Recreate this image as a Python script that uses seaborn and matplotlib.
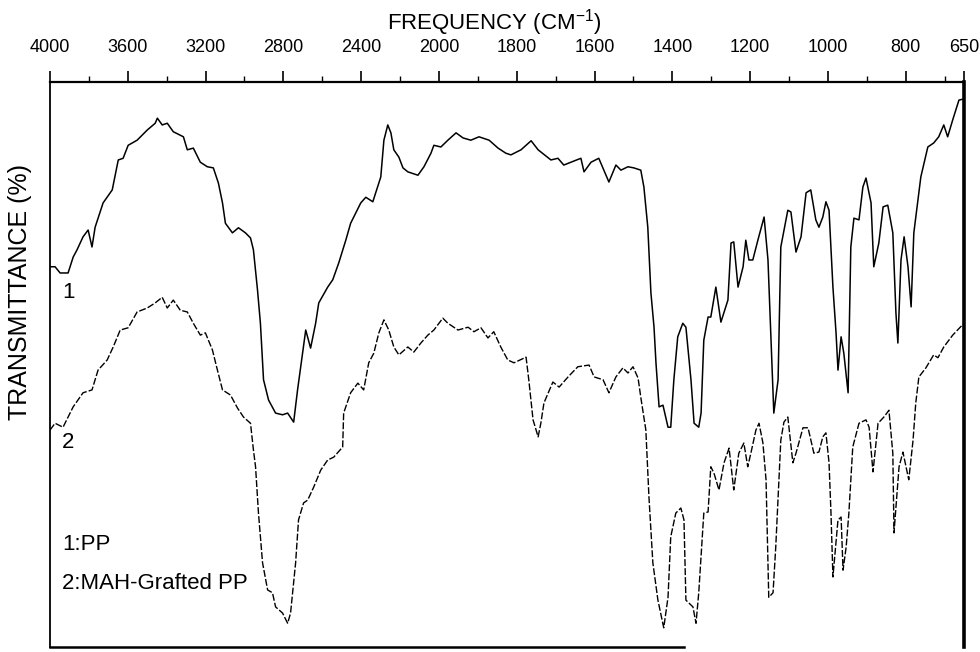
import numpy as np
import pandas as pd
import matplotlib
matplotlib.use("Agg")
import matplotlib.pyplot as plt
import seaborn as sns

# IR spectrum of polypropylene (curve 1)
pp_wn = [4000, 3974, 3948, 3907, 3881, 3861, 3830, 3804, 3784, 3768,
         3727, 3680, 3649, 3624, 3598, 3552, 3500, 3459, 3448, 3423,
         3397, 3366, 3314, 3294, 3263, 3227, 3191, 3160, 3134, 3113,
         3098, 3062, 3031, 2995, 2969, 2954, 2933, 2918, 2902, 2876,
         2840, 2804, 2778, 2747, 2727, 2701, 2685, 2660, 2634, 2618,
         2572, 2546, 2515, 2479, 2454, 2402, 2376, 2340, 2325, 2299,
         2283, 2263, 2247, 2232, 2206, 2185, 2160, 2108, 2077, 2041,
         2026, 1995, 1977, 1956, 1938, 1918, 1897, 1871, 1848, 1828,
         1815, 1789, 1763, 1745, 1712, 1694, 1679, 1635, 1627, 1609,
         1589, 1563, 1545, 1532, 1514, 1499, 1481, 1473, 1463, 1455,
         1447, 1442, 1434, 1424, 1411, 1404, 1396, 1386, 1373, 1365,
         1352, 1344, 1332, 1326, 1319, 1308, 1301, 1288, 1275, 1257,
         1249, 1242, 1231, 1218, 1211, 1203, 1193, 1180, 1164, 1154,
         1146, 1139, 1128, 1121, 1103, 1095, 1082, 1069, 1056, 1044,
         1031, 1023, 1013, 1005, 997, 987, 979, 974, 966, 959,
         948, 941, 933, 920, 910, 902, 889, 882, 869, 858,
         846, 833, 825, 820, 812, 804, 794, 786, 779, 761,
         743, 728, 715, 702, 692, 679, 663, 650]
pp_t = [67.3, 67.3, 66.2, 66.2, 69.0, 70.3, 72.6, 73.8, 70.8, 74.3,
        78.6, 80.9, 86.2, 86.5, 88.8, 89.7, 91.5, 92.7, 93.6, 92.4,
        92.7, 91.2, 90.3, 88.0, 88.3, 85.8, 85.0, 84.8, 82.1, 78.6,
        75.0, 73.3, 74.2, 73.3, 72.4, 70.3, 63.2, 57.3, 47.3, 43.7,
        41.4, 41.1, 41.4, 39.8, 45.5, 52.0, 56.1, 52.9, 57.3, 60.9,
        63.7, 65.0, 68.0, 72.0, 75.0, 78.6, 79.6, 78.8, 80.4, 83.2,
        89.7, 92.4, 91.0, 88.0, 86.7, 84.8, 84.1, 83.5, 85.0, 87.4,
        88.8, 88.5, 89.7, 91.0, 90.1, 89.7, 90.3, 89.7, 88.3, 87.4,
        87.1, 88.0, 89.6, 88.0, 86.2, 86.5, 85.3, 86.5, 84.1, 85.8,
        86.5, 82.3, 85.3, 84.4, 85.0, 84.8, 84.4, 81.4, 74.3, 62.7,
        56.6, 50.3, 42.5, 42.8, 38.9, 38.9, 47.3, 54.9, 57.3, 56.6,
        47.3, 39.6, 38.9, 41.4, 54.3, 58.4, 58.4, 63.7, 57.5, 61.4,
        71.5, 71.7, 63.7, 67.3, 72.0, 68.5, 68.5, 72.0, 76.1, 68.5,
        53.8, 41.4, 47.3, 70.8, 77.3, 77.0, 69.9, 72.6, 80.4, 80.9,
        75.6, 74.3, 76.1, 78.8, 77.3, 63.7, 55.6, 49.0, 54.9, 52.0,
        45.0, 70.8, 75.9, 75.6, 81.4, 83.0, 78.6, 67.3, 71.5, 77.9,
        78.2, 73.3, 59.1, 53.8, 68.5, 72.6, 67.3, 60.2, 73.3, 83.2,
        88.5, 89.2, 90.3, 92.4, 90.3, 93.3, 96.8, 97.0]

# IR spectrum of MAH-grafted polypropylene (curve 2)
mah_wn = [4000, 3974, 3933, 3881, 3830, 3784, 3753, 3706, 3675, 3639,
          3598, 3552, 3500, 3459, 3423, 3397, 3366, 3330, 3294, 3263,
          3227, 3201, 3165, 3139, 3113, 3072, 3036, 3005, 2969, 2954,
          2943, 2928, 2907, 2881, 2856, 2840, 2804, 2778, 2763, 2737,
          2722, 2696, 2675, 2644, 2608, 2572, 2541, 2495, 2490, 2454,
          2417, 2387, 2361, 2335, 2309, 2283, 2258, 2232, 2206, 2160,
          2129, 2093, 2057, 2026, 1990, 1977, 1951, 1925, 1910, 1892,
          1874, 1859, 1841, 1823, 1807, 1776, 1769, 1758, 1745, 1738,
          1730, 1707, 1691, 1668, 1643, 1614, 1601, 1578, 1563, 1545,
          1527, 1514, 1501, 1488, 1481, 1468, 1460, 1450, 1437, 1422,
          1411, 1404, 1391, 1378, 1370, 1365, 1347, 1339, 1332, 1319,
          1308, 1301, 1293, 1280, 1267, 1254, 1242, 1229, 1216, 1206,
          1198, 1185, 1177, 1167, 1159, 1152, 1141, 1134, 1121, 1113,
          1103, 1090, 1082, 1064, 1051, 1036, 1023, 1013, 1005, 997,
          992, 987, 974, 966, 961, 953, 946, 936, 920, 902,
          894, 884, 871, 856, 843, 833, 830, 817, 807, 799,
          792, 781, 774, 766, 748, 728, 717, 702, 679, 650]
mah_t = [38.4, 39.6, 38.9, 42.5, 45.0, 45.5, 49.0, 50.8, 53.1, 56.1,
         56.5, 59.3, 60.0, 60.9, 61.9, 60.0, 61.4, 59.6, 59.3, 57.3,
         55.2, 55.6, 52.6, 49.0, 45.5, 44.6, 42.3, 40.7, 39.6, 34.9,
         31.9, 23.7, 14.9, 10.1, 9.6, 7.1, 6.0, 4.2, 6.0, 14.9,
         22.5, 25.5, 26.0, 28.3, 31.3, 33.1, 33.6, 35.4, 41.4, 45.0,
         46.7, 45.5, 50.3, 52.0, 55.6, 57.9, 56.1, 53.1, 51.7, 53.1,
         52.2, 53.8, 55.2, 56.1, 58.2, 57.3, 56.1, 56.6, 55.8, 56.5,
         54.7, 55.8, 53.1, 50.8, 50.3, 51.3, 47.3, 40.2, 37.2, 39.6,
         43.2, 46.9, 46.0, 47.8, 49.6, 49.9, 47.8, 47.3, 45.0, 47.8,
         49.4, 48.5, 49.6, 47.6, 44.2, 38.4, 26.5, 14.9, 8.3, 3.4,
         8.8, 19.5, 23.7, 24.6, 22.5, 8.3, 7.1, 4.2, 9.6, 23.7,
         23.9, 31.9, 30.8, 27.8, 32.6, 35.2, 27.8, 34.3, 36.1, 31.9,
         34.3, 38.4, 39.6, 36.1, 29.6, 8.8, 9.6, 17.7, 36.6, 39.8,
         40.7, 32.6, 34.3, 38.8, 38.8, 34.3, 34.5, 37.2, 37.9, 32.6,
         23.7, 12.4, 22.5, 23.0, 13.6, 17.7, 23.7, 35.4, 39.6, 40.2,
         38.9, 31.0, 39.6, 40.7, 41.9, 34.3, 20.2, 31.9, 34.5, 31.9,
         29.6, 36.6, 43.2, 47.8, 49.4, 51.7, 51.2, 53.1, 55.2, 57.3]

major_ticks = [4000, 3600, 3200, 2800, 2400, 2000, 1800, 1600, 1400, 1200, 1000, 800, 650]
minor_ticks = [3800, 3400, 3000, 2600, 2200, 1900, 1700, 1500, 1300, 1100, 900, 700]

sns.set_theme(style="white")
plt.rcParams["font.family"] = ["Liberation Sans", "DejaVu Sans"]
plt.rcParams["mathtext.fontset"] = "custom"
plt.rcParams["mathtext.rm"] = "Liberation Sans"
plt.rcParams["mathtext.it"] = "Liberation Sans"
plt.rcParams["text.color"] = "black"
plt.rcParams["xtick.color"] = "black"
plt.rcParams["xtick.labelcolor"] = "black"

fig = plt.figure(figsize=(9.8, 6.52), dpi=100)
ax = fig.add_axes([50 / 980, 5 / 652, 914 / 980, 565 / 652])

pp = pd.DataFrame({"wn": pp_wn, "t": pp_t})
mah = pd.DataFrame({"wn": mah_wn, "t": mah_t})

sns.lineplot(data=pp, x="wn", y="t", sort=False, estimator=None,
             color="black", linewidth=1.1, ax=ax)
sns.lineplot(data=mah, x="wn", y="t", sort=False, estimator=None,
             color="black", linewidth=1.0, linestyle=(0, (5, 1.5)), ax=ax)


# wavenumber axis with the usual 2:1 scale change at 2000 cm-1
def fwd(w):
    w = np.asarray(w, dtype=float)
    return np.where(w >= 2000, 2000 + (w - 2000) / 2, w)


def inv(v):
    v = np.asarray(v, dtype=float)
    return np.where(v >= 2000, 2000 + 2 * (v - 2000), v)


ax.set_xscale("function", functions=(fwd, inv))
ax.set_xlim(4000, 650)
ax.set_ylim(0, 100)

ax.xaxis.tick_top()
ax.set_xticks(major_ticks)
ax.set_xticklabels([str(t) for t in major_ticks])
ax.set_xticks(minor_ticks, minor=True)
ax.tick_params(axis="x", which="major", direction="out", length=8, width=1.2,
               pad=11, labelsize=13, top=True, bottom=False,
               colors="black", labelcolor="black")
ax.tick_params(axis="x", which="minor", direction="out", length=4, width=1.0,
               top=True, bottom=False, colors="black")
ax.set_yticks([])
ax.set_xlabel("")
ax.set_ylabel("")

for side, w in [("left", 1.3), ("top", 1.6), ("right", 2.6), ("bottom", 1.8)]:
    ax.spines[side].set_visible(True)
    ax.spines[side].set_color("black")
    ax.spines[side].set_linewidth(w)
ax.spines["bottom"].set_bounds(4000, 1370)

fig.text(494 / 980, 1 - 23 / 652, r"FREQUENCY (CM$^{-1}$)",
         ha="center", va="center", fontsize=16, color="black")
fig.text(20 / 980, 1 - 292 / 652, "TRANSMITTANCE (%)", rotation=90,
         ha="center", va="center", fontsize=18, color="black")

ax.text(0.0197, 0.628, "1", transform=ax.transAxes, ha="center", va="center", fontsize=16)
ax.text(0.0197, 0.362, "2", transform=ax.transAxes, ha="center", va="center", fontsize=16)
ax.text(0.013, 0.181, "1:PP", transform=ax.transAxes, ha="left", va="center", fontsize=16)
ax.text(0.013, 0.113, "2:MAH-Grafted PP", transform=ax.transAxes, ha="left", va="center", fontsize=16)

fig.savefig("out.png", dpi=100)
